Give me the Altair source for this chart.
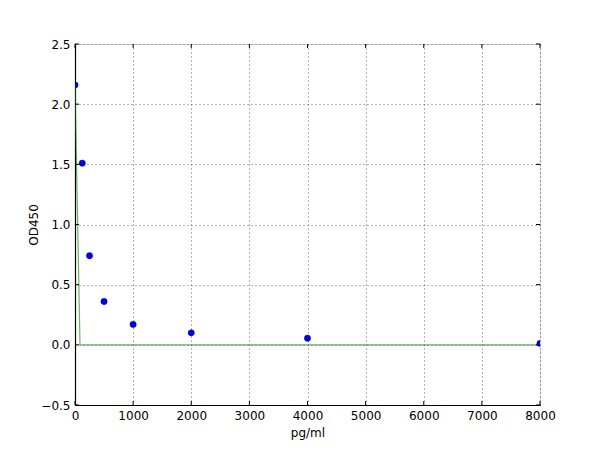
import altair as alt
import pandas as pd

conc = [0, 125, 250, 500, 1000, 2000, 4000, 8000]
od = [2.16, 1.51, 0.74, 0.36, 0.17, 0.10, 0.055, 0.012]

fit_x = [0, 86, 8000]
fit_y = [2.16, 0.0, 0.0]

x_ticks = [0, 1000, 2000, 3000, 4000, 5000, 6000, 7000, 8000]
y_ticks = [-0.5, 0.0, 0.5, 1.0, 1.5, 2.0, 2.5]

pts = pd.DataFrame({"x": conc, "y": od})
fit = pd.DataFrame({"x": fit_x, "y": fit_y})
xt = pd.DataFrame({"x": x_ticks})
yt = pd.DataFrame({"y": y_ticks})

W, H = 465, 361
font = "DejaVu Sans"
xscale = alt.Scale(domain=[0, 8000], nice=False, zero=False)
yscale = alt.Scale(domain=[-0.5, 2.5], nice=False, zero=False)

xaxis = alt.Axis(title="pg/ml", values=x_ticks, format="d",
                 grid=True, gridDash=[1, 3], gridColor="#000", gridOpacity=0.6,
                 domain=True, domainColor="#000", domainWidth=1.2,
                 ticks=False, labelPadding=5, labelFontSize=12,
                 labelFlush=False,
                 titleFontSize=12, titleFontWeight="normal", titlePadding=6,
                 labelFont=font, titleFont=font, labelColor="#000", titleColor="#000")
yaxis = alt.Axis(title="OD450", values=y_ticks, format=".1f",
                 grid=True, gridDash=[1, 3], gridColor="#000", gridOpacity=0.6,
                 domain=True, domainColor="#000", domainWidth=1.2,
                 ticks=False, labelPadding=5, labelFontSize=12,
                 labelFlush=False,
                 titleFontSize=12, titleFontWeight="normal", titlePadding=0,
                 labelFont=font, titleFont=font, labelColor="#000", titleColor="#000")

line = alt.Chart(fit).mark_line(color="#008000", opacity=0.6, strokeWidth=1.2, clip=True).encode(
    x=alt.X("x:Q", scale=xscale, axis=xaxis),
    y=alt.Y("y:Q", scale=yscale, axis=yaxis),
)
points = alt.Chart(pts).mark_circle(color="#0000ee", size=40, opacity=1,
                                    stroke="#000033", strokeWidth=0.4, clip=True).encode(
    x=alt.X("x:Q", scale=xscale),
    y=alt.Y("y:Q", scale=yscale),
)

tick_style = dict(color="#000", strokeWidth=1)
xb = alt.Chart(xt).mark_rule(**tick_style).encode(
    x=alt.X("x:Q", scale=xscale), y=alt.value(H), y2=alt.value(H - 4))
xtp = alt.Chart(xt).mark_rule(**tick_style).encode(
    x=alt.X("x:Q", scale=xscale), y=alt.value(0), y2=alt.value(4))
yl = alt.Chart(yt).mark_rule(**tick_style).encode(
    y=alt.Y("y:Q", scale=yscale), x=alt.value(0), x2=alt.value(4))
yr = alt.Chart(yt).mark_rule(**tick_style).encode(
    y=alt.Y("y:Q", scale=yscale), x=alt.value(W), x2=alt.value(W - 4))

chart = (line + xb + xtp + yl + yr + points).properties(
    width=W, height=H,
    autosize=alt.AutoSizeParams(type="none"),
    padding={"left": 67, "top": 36, "right": 50, "bottom": 40},
).configure_view(stroke="#000", strokeWidth=1.2).configure(background="white")

chart.save("out.html", embed_options={"renderer": "svg", "actions": False})
